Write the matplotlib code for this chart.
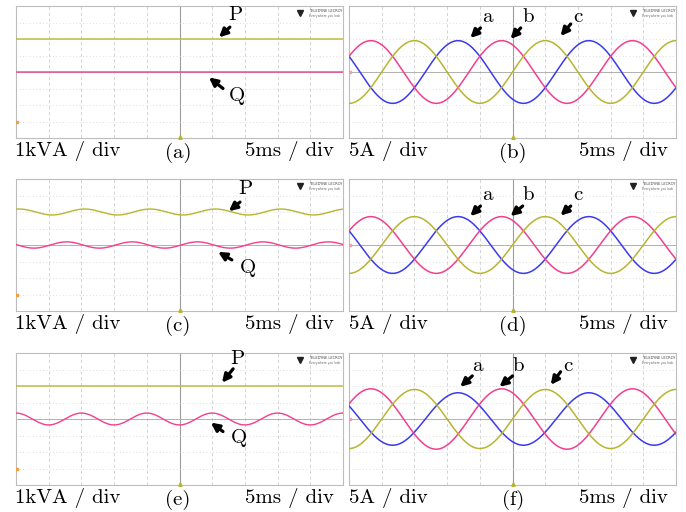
import numpy as np
import matplotlib
matplotlib.use("Agg")
import matplotlib.pyplot as plt

# ---- data (values in physical units) ----
panel_tags = ['(a)', '(b)', '(c)', '(d)', '(e)', '(f)']
power_scale = 1.0      # kVA / div
current_scale = 5.0    # A / div
ms_per_div = 5.0
f_grid = 50.0          # Hz

# left column: P and Q (kVA), ripple at twice the grid frequency
p_mean = [2.0, 2.0, 2.0]
q_mean = [0.0, 0.0, 0.0]
p_ripple = [0.0, 0.18, 0.0]
q_ripple = [0.0, 0.19, 0.36]
p_ripple_peak_ms = [0.0, 0.5, 0.0]    # time of a ripple peak
q_ripple_peak_ms = [0.0, 7.75, 0.0]

# right column: phase currents a, b, c (A)
ia_amp = [9.5, 8.6, 7.95]
ib_amp = [9.5, 8.6, 9.15]
ic_amp = [9.5, 8.6, 8.95]
ia_peak_ms = 16.67   # phase a crest; b and c lag by 120 deg
phase_shift_deg = [0, -120, -240]

yellow = '#b7b530'
pink = '#f23f8e'
blue = '#3a3af0'

fig = plt.figure(figsize=(6.86, 5.12), dpi=100)
W, H = 686.0, 512.0

row_top = [6, 179, 353]
col_left = [16, 349]
ax_w, ax_h = 327, 132


def make_axes(left, top):
    ax = fig.add_axes([left / W, 1 - (top + ax_h) / H, ax_w / W, ax_h / H])
    ax.set_xlim(0, 10)
    ax.set_ylim(-4, 4)
    ax.set_xticks([])
    ax.set_yticks([])
    for s in ax.spines.values():
        s.set_color('#bdbdbd')
        s.set_linewidth(0.8)
    for x in range(1, 10):
        if x == 5:
            ax.axvline(x, color='#9c9c9c', lw=0.8, zorder=1)
        else:
            ax.axvline(x, color='#cfcfcf', lw=0.6, ls=(0, (4, 3)), zorder=1)
    for y in range(-3, 4):
        if y == 0:
            ax.axhline(y, color='#b0b0b0', lw=0.7, zorder=1)
        else:
            ax.axhline(y, color='#d2d2d2', lw=0.6, ls=(0, (1, 3)), zorder=1)
    # scope logo
    ax.plot([8.7], [3.55], marker='v', ms=4, color='#222222', zorder=5)
    ax.text(8.95, 3.68, 'TELEDYNE LECROY', fontsize=2.6, color='#444444', va='center')
    ax.text(8.95, 3.42, 'Everywhere you look', fontsize=2.2, color='#666666', va='center')
    # trigger marker
    ax.plot([5], [-3.92], marker='^', ms=2.5, color=yellow, clip_on=False, zorder=6)
    return ax


def arrow(ax, label, txt_xy, tail, head):
    ax.text(txt_xy[0], txt_xy[1], label, fontsize=15, family='cmr10',
            ha='center', va='center', zorder=8)
    ax.annotate('', xy=head, xytext=tail,
                arrowprops=dict(arrowstyle='-|>', lw=2.3, color='black',
                                mutation_scale=12, shrinkA=0, shrinkB=0),
                zorder=8)


t_ms = np.linspace(0, 10 * ms_per_div, 1200)
t_div = t_ms / ms_per_div
w = 2 * np.pi * f_grid / 1000.0   # rad per ms

# annotation positions (div units) for each panel
pq_arrows = [
    [((6.7, 3.45), (6.54, 2.72), (6.21, 2.1)), ((6.76, -1.43), (6.33, -1.0), (5.9, -0.33))],
    [((7.0, 3.39), (6.85, 2.6), (6.51, 2.05)), ((7.09, -1.39), (6.6, -0.9), (6.18, -0.42))],
    [((6.76, 3.64), (6.64, 3.04), (6.3, 2.2)), ((6.82, -1.18), (6.33, -0.76), (5.96, -0.22))],
]
abc_arrows = [
    [((4.23, 3.33), (4.02, 2.67), (3.71, 2.06)), ((5.49, 3.33), (5.25, 2.67), (4.94, 2.0)),
     ((6.99, 3.33), (6.78, 2.91), (6.47, 2.18))],
    [((4.23, 3.03), (4.02, 2.36), (3.71, 1.75)), ((5.49, 3.03), (5.31, 2.36), (4.94, 1.75)),
     ((6.99, 3.03), (6.78, 2.36), (6.47, 1.78))],
    [((3.93, 3.22), (3.77, 2.61), (3.4, 1.95)), ((5.18, 3.22), (5.0, 2.61), (4.6, 1.95)),
     ((6.69, 3.22), (6.47, 2.86), (6.17, 2.07))],
]

serif = dict(family='cmr10', fontsize=15)

for r in range(3):
    # ---- left: P / Q ----
    ax = make_axes(col_left[0], row_top[r])
    p = p_mean[r] + p_ripple[r] * np.cos(2 * w * (t_ms - p_ripple_peak_ms[r]))
    q = q_mean[r] + q_ripple[r] * np.cos(2 * w * (t_ms - q_ripple_peak_ms[r]))
    ax.plot(t_div, p / power_scale, color=yellow, lw=1.0, zorder=3)
    ax.plot(t_div, q / power_scale, color=pink, lw=1.0, zorder=3)
    ax.plot([0.02], [-3.0], marker='s', ms=2, color='#f0a040', zorder=6)
    for lab, (txy, tail, head) in zip(['P', 'Q'], pq_arrows[r]):
        arrow(ax, lab, txy, tail, head)

    # ---- right: phase currents ----
    ax2 = make_axes(col_left[1], row_top[r])
    amps = [ia_amp[r], ib_amp[r], ic_amp[r]]
    cols = [blue, pink, yellow]
    for amp, sh, c in zip(amps, phase_shift_deg, cols):
        i = amp * np.cos(w * (t_ms - ia_peak_ms) + np.deg2rad(sh))
        ax2.plot(t_div, i / current_scale, color=c, lw=1.1, zorder=3)
    ax2.plot([0.02], [0.0], marker='s', ms=2, color='#f0a0b0', zorder=6)
    for lab, (txy, tail, head) in zip(['a', 'b', 'c'], abc_arrows[r]):
        arrow(ax2, lab, txy, tail, head)

    # ---- captions below the row ----
    ybase = row_top[r] + ax_h + 13
    fig.text(15 / W, 1 - ybase / H, '1kVA / div', ha='left', va='center', **serif)
    fig.text(178 / W, 1 - (ybase + 2) / H, panel_tags[2 * r], ha='center', va='center', **serif)
    fig.text(334 / W, 1 - ybase / H, '5ms / div', ha='right', va='center', **serif)
    fig.text(349 / W, 1 - ybase / H, '5A / div', ha='left', va='center', **serif)
    fig.text(513 / W, 1 - (ybase + 2) / H, panel_tags[2 * r + 1], ha='center', va='center', **serif)
    fig.text(668 / W, 1 - ybase / H, '5ms / div', ha='right', va='center', **serif)

fig.savefig('out.png', dpi=100)
